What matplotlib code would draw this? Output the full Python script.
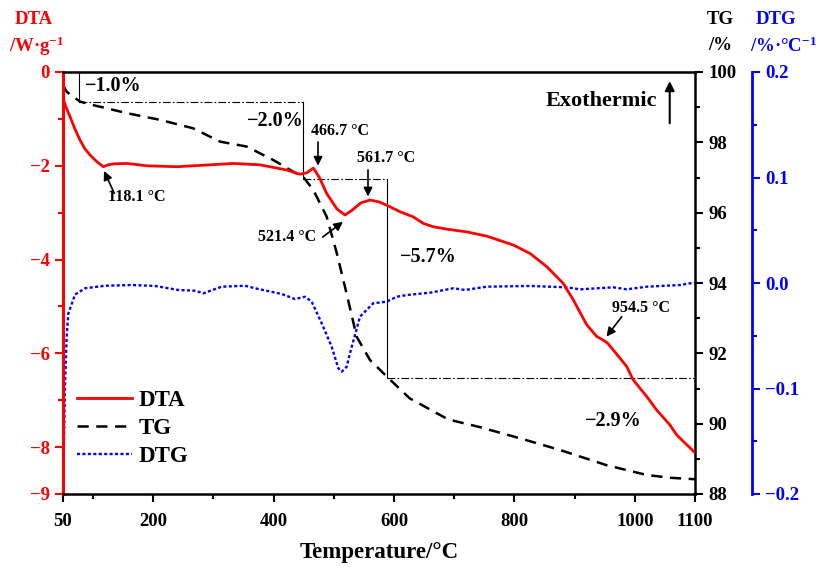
import matplotlib
matplotlib.use("Agg")
import matplotlib.pyplot as plt

plt.rcParams['font.family'] = ['Liberation Serif', 'DejaVu Serif']
plt.rcParams['font.weight'] = 'bold'
plt.rcParams['mathtext.fontset'] = 'custom'
plt.rcParams['mathtext.rm'] = 'Liberation Serif:bold'
plt.rcParams['mathtext.bf'] = 'Liberation Serif:bold'
plt.rcParams['mathtext.default'] = 'bf'
plt.rcParams['axes.unicode_minus'] = True

# ---------------- data ----------------
dta_T = [50, 55.0, 61.6, 70.0, 78.2, 86.0, 94.9, 106.0, 117.0, 125.0, 133.6, 155.8, 189.1,
         238.9, 294.2, 332.9, 377.3, 421.7, 443.8, 455.0, 465.9, 476.0, 488.1, 505.0,
         518.5, 530.0, 545.0, 560.1, 575.0, 587.8, 609.9, 632.0, 648.6, 665.2, 687.5,
         720.7, 753.9, 798.1, 825.9, 853.6, 881.2, 897.8, 920.1, 936.7, 947.7, 954.5,
         964.3, 986.5, 997.5, 1019.8, 1036.4, 1058.5, 1069.6, 1100]
dta_V = [-0.56, -0.75, -0.95, -1.22, -1.45, -1.63, -1.77, -1.91, -2.02, -1.98, -1.96,
         -1.95, -2.00, -2.02, -1.98, -1.95, -1.98, -2.09, -2.18, -2.15, -2.05, -2.25,
         -2.59, -2.92, -3.05, -2.95, -2.79, -2.73, -2.77, -2.84, -2.98, -3.09, -3.23,
         -3.30, -3.35, -3.41, -3.50, -3.69, -3.87, -4.15, -4.51, -4.86, -5.39, -5.64,
         -5.72, -5.78, -5.93, -6.28, -6.57, -6.92, -7.21, -7.53, -7.74, -8.12]

tg_T = [50, 56, 78, 100, 156, 211, 266, 311, 355, 399, 433, 449, 466, 488, 505, 521,
        538, 560, 588, 626, 690, 743, 810, 876, 953, 1020, 1060, 1100]
tg_V = [99.63, 99.44, 99.16, 99.06, 98.83, 98.64, 98.40, 98.02, 97.88, 97.50, 97.16,
        97.02, 96.64, 95.89, 94.84, 93.71, 92.47, 91.81, 91.34, 90.72, 90.12, 89.90,
        89.58, 89.25, 88.82, 88.54, 88.46, 88.42]

dtg_T = [50, 53.3, 56.1, 58.8, 69.9, 86.6, 119.8, 164.1, 202.9, 241.6, 269.3, 283.1,
         313.7, 352.4, 369.0, 413.3, 435.4, 452.1, 463.2, 479.8, 496.4, 507.4, 513.0,
         521.3, 526.8, 535.1, 543.4, 565.5, 587.8, 604.4, 621.0, 659.7, 698.5, 717.9,
         753.9, 825.9, 886.8, 908.9, 964.3, 986.5, 1019.8, 1075.0, 1091.7, 1100]
dtg_V = [-0.200, -0.098, -0.051, -0.029, -0.011, -0.005, -0.0026, -0.0019, -0.0028,
         -0.0066, -0.0073, -0.0098, -0.0035, -0.0026, -0.0050, -0.0104, -0.0152,
         -0.0130, -0.0177, -0.0382, -0.0604, -0.0809, -0.0841, -0.0793, -0.0666,
         -0.0493, -0.0319, -0.0192, -0.0177, -0.0130, -0.0114, -0.0092, -0.0050,
         -0.0066, -0.0035, -0.0028, -0.0041, -0.0060, -0.0041, -0.0060, -0.0035,
         -0.0019, -0.0003, 0.0]

# TG step reference levels (temperature, TG)
step_T = [77, 448.6, 588, 1100]
step_TG = [99.14, 96.96, 91.30]
step_labels = ['\u22121.0%', '\u22122.0%', '\u22125.7%', '\u22122.9%']

peak_labels = ['118.1 \u00b0C', '466.7 \u00b0C', '561.7 \u00b0C', '521.4 \u00b0C', '954.5 \u00b0C']

x_major = [50, 200, 400, 600, 800, 1000, 1100]
x_minor = [100, 300, 500, 700, 900]

RED = '#FF0000'
BLUE = '#0000FF'

# ---------------- figure ----------------
fig = plt.figure(figsize=(8.16, 5.67), dpi=100)
L, R, B, T = 63/816, 695/816, 1-494/567, 1-72/567
ax = fig.add_axes([L, B, R-L, T-B])
ax_tg = ax.twinx()
ax_dtg = ax.twinx()
ax_dtg.spines['right'].set_position(('axes', (752-63)/632))

ax.set_zorder(3)
ax.patch.set_visible(False)
ax_tg.set_zorder(2)
ax_dtg.set_zorder(1)

l_dtg, = ax_dtg.plot(dtg_T, dtg_V, color=BLUE, lw=1.7, linestyle=(0, (1.3, 1.0)), label='DTG')
l_tg, = ax_tg.plot(tg_T, tg_V, color='black', lw=1.8, linestyle=(0, (4.5, 3.0)), label='TG')
l_dta, = ax.plot(dta_T, dta_V, color=RED, lw=2.0, label='DTA')

# step reference lines
dd = (0, (7, 2, 1.5, 2))
ax_tg.plot([step_T[0], step_T[0]], [100, step_TG[0]], color='black', lw=0.8)
ax_tg.plot([step_T[0], step_T[1]], [step_TG[0], step_TG[0]], color='black', lw=0.8, linestyle=dd)
ax_tg.plot([step_T[1], step_T[1]], [step_TG[0], step_TG[1]], color='black', lw=0.8)
ax_tg.plot([step_T[1], step_T[2]], [step_TG[1], step_TG[1]], color='black', lw=0.8, linestyle=dd)
ax_tg.plot([step_T[2], step_T[2]], [step_TG[1], step_TG[2]], color='black', lw=0.8)
ax_tg.plot([step_T[2], step_T[3]], [step_TG[2], step_TG[2]], color='black', lw=0.8, linestyle=dd)

# limits
ax.set_xlim(50, 1100)
ax.set_ylim(-9, 0)
ax_tg.set_ylim(88, 100)
ax_dtg.set_ylim(-0.2, 0.2)

# ticks
ax.set_xticks(x_major)
ax.set_xticks(x_minor, minor=True)
ax.set_xticklabels([str(v) for v in x_major])
ax.set_yticks([0, -2, -4, -6, -8, -9])
ax.set_yticks([-1, -3, -5, -7], minor=True)
ax.set_yticklabels(['0', '\u22122', '\u22124', '\u22126', '\u22128', '\u22129'])
ax_tg.set_yticks([88, 90, 92, 94, 96, 98, 100])
ax_tg.set_yticks([89, 91, 93, 95, 97, 99], minor=True)
ax_dtg.set_yticks([-0.2, -0.1, 0.0, 0.1, 0.2])
ax_dtg.set_yticks([-0.15, -0.05, 0.05, 0.15], minor=True)
ax_dtg.set_yticklabels(['\u22120.2', '\u22120.1', '0.0', '0.1', '0.2'])

for a in (ax, ax_tg, ax_dtg):
    a.tick_params(which='major', direction='out', length=6, width=1.5, labelsize=13.5)
    a.tick_params(which='minor', direction='out', length=3.5, width=1.5)

ax.tick_params(axis='y', which='both', colors=RED, labelcolor=RED)
ax.tick_params(axis='x', which='both', colors='black', pad=8)
ax_tg.tick_params(axis='y', which='both', colors='black')
ax_dtg.tick_params(axis='y', which='both', colors=BLUE, labelcolor=BLUE)

for s in ax.spines.values():
    s.set_linewidth(1.8)
ax.spines['left'].set_color(RED)
ax.spines['left'].set_linewidth(2.2)
ax.spines['right'].set_visible(False)
ax_tg.spines['right'].set_linewidth(1.8)
ax_tg.spines['right'].set_color('black')
for k in ('left', 'top', 'bottom'):
    ax_tg.spines[k].set_visible(False)
    ax_dtg.spines[k].set_visible(False)
ax_dtg.spines['right'].set_color(BLUE)
ax_dtg.spines['right'].set_linewidth(2.0)

ax.set_xlabel('Temperature/\u00b0C', fontsize=16.5, fontweight='bold', labelpad=8)

# axis titles
fig.text(34/816, 1-20/567, 'DTA', color=RED, fontsize=13.5, ha='center', va='center')
fig.text(37/816, 1-46/567, '/W\u00b7g$^{-1}$', color=RED, fontsize=13.5, ha='center', va='center')
fig.text(720/816, 1-20/567, 'TG', color='black', fontsize=13.5, ha='center', va='center')
fig.text(720/816, 1-46/567, '/%', color='black', fontsize=13.5, ha='center', va='center')
fig.text(776/816, 1-20/567, 'DTG', color=BLUE, fontsize=13.5, ha='center', va='center')
fig.text(783/816, 1-46/567, '/%\u00b7\u00b0C$^{-1}$', color=BLUE, fontsize=13.5, ha='center', va='center')

# annotations (axes fraction)
tr = ax.transAxes
pct_pos = [(0.0348, 0.967), (0.291, 0.884), (0.533, 0.562), (0.826, 0.173)]
for (px, py), s in zip(pct_pos, step_labels):
    ax.text(px, py, s, transform=tr, fontsize=14.5, ha='left', va='center', zorder=10)

ax.text(0.764, 0.931, 'Exothermic', transform=tr, fontsize=16, ha='left', va='center')
ax.annotate('', xy=(0.960, 0.985), xytext=(0.960, 0.872), xycoords=tr, textcoords=tr,
            arrowprops=dict(arrowstyle='-|>', lw=1.5, color='black', mutation_scale=14))

arrow_props = dict(arrowstyle='-|>', lw=1.2, color='black', mutation_scale=13, shrinkA=0, shrinkB=0)
peak_text = [(0.0712, 0.704, 'left'), (0.438, 0.860, 'center'), (0.511, 0.796, 'center'),
             (0.354, 0.609, 'center'), (0.915, 0.441, 'center')]
peak_arrows = [((0.0812, 0.7126), (0.0649, 0.7654)),
               ((0.4035, 0.834), (0.4035, 0.778)),
               ((0.4826, 0.768), (0.4826, 0.705)),
               ((0.411, 0.609), (0.443, 0.645)),
               ((0.884, 0.420), (0.860, 0.373))]
for (px, py, ha), s in zip(peak_text, peak_labels):
    ax.text(px, py, s, transform=tr, fontsize=11.5, ha=ha, va='center')
for tail, head in peak_arrows:
    ax.annotate('', xy=head, xytext=tail, xycoords=tr, textcoords=tr, arrowprops=arrow_props)

# legend
leg = ax.legend([l_dta, l_tg, l_dtg], ['DTA', 'TG', 'DTG'], loc='upper left',
                bbox_to_anchor=(0.022, 0.246), frameon=False, fontsize=16.5,
                handlelength=2.4, handletextpad=0.3, labelspacing=0.3,
                borderpad=0, borderaxespad=0)

fig.savefig('out.png', dpi=100)
